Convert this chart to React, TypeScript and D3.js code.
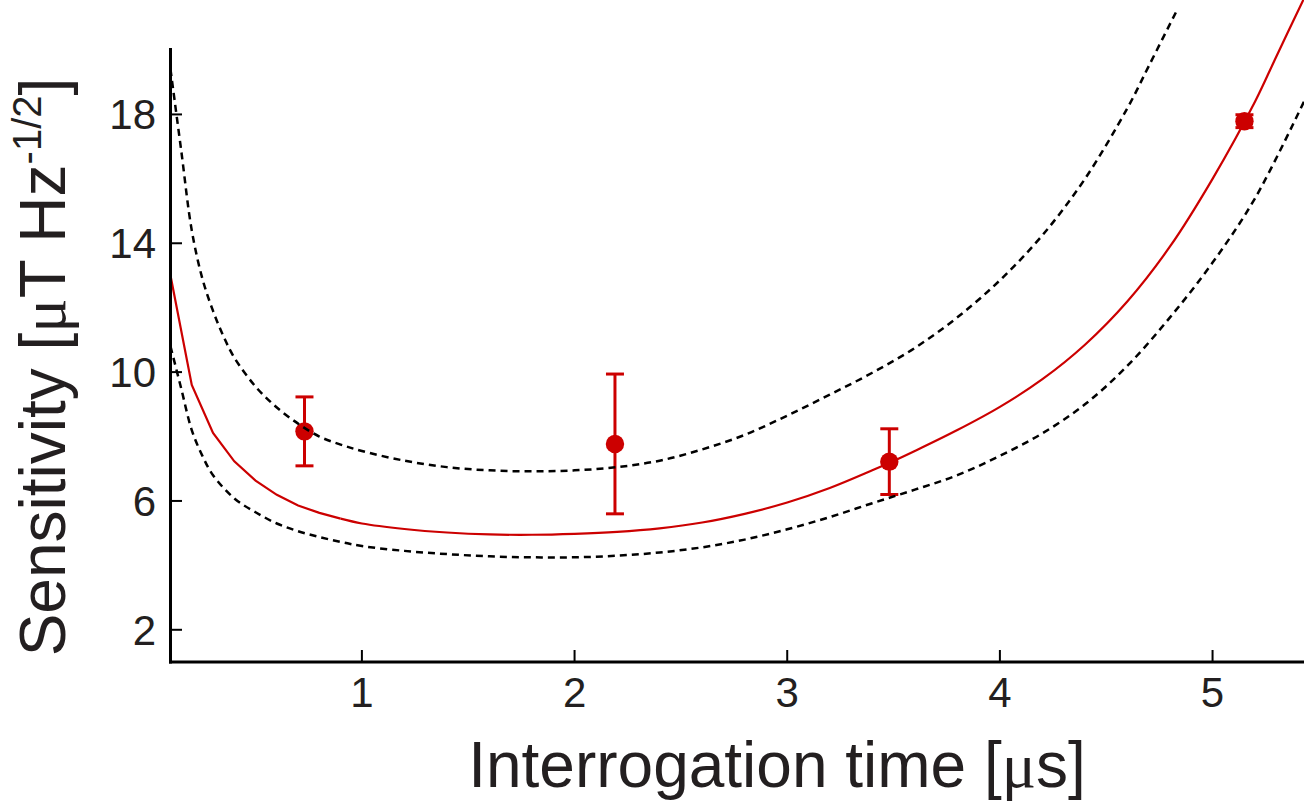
import React from "react";
import * as d3 from "d3";

// Fitted sensitivity curve (red solid)
const fitT = [0.1, 0.2, 0.3, 0.4, 0.5, 0.6, 0.7, 0.8, 0.9, 1.0, 1.2, 1.4, 1.6, 1.8, 2.0, 2.2, 2.4, 2.6, 2.8, 3.0, 3.2, 3.4, 3.5, 3.6, 3.8, 4.0, 4.2, 4.4, 4.6, 4.8, 5.0, 5.2, 5.3, 5.43];
const fitS = [13.0, 9.6, 8.11, 7.23, 6.63, 6.19, 5.86, 5.63, 5.45, 5.3, 5.13, 5.02, 4.96, 4.95, 4.98, 5.04, 5.15, 5.33, 5.6, 5.95, 6.4, 6.95, 7.24, 7.55, 8.2, 8.92, 9.78, 10.85, 12.2, 13.9, 16.0, 18.4, 19.8, 21.6];

// Upper bound (black dashed)
const upperT = [0.1, 0.15, 0.2, 0.25, 0.3, 0.35, 0.4, 0.5, 0.6, 0.7, 0.8, 0.9, 1.0, 1.2, 1.4, 1.6, 1.8, 2.0, 2.2, 2.4, 2.6, 2.8, 3.0, 3.2, 3.4, 3.6, 3.8, 4.0, 4.2, 4.4, 4.6, 4.7, 4.83];
const upperS = [19.4, 16.9, 14.4, 12.9, 11.9, 11.1, 10.45, 9.55, 8.9, 8.4, 8.0, 7.75, 7.55, 7.25, 7.05, 6.95, 6.92, 6.95, 7.05, 7.25, 7.6, 8.05, 8.65, 9.3, 9.98, 10.75, 11.7, 12.85, 14.25, 16.0, 18.2, 19.5, 21.2];

// Lower bound (black dashed)
const lowerT = [0.1, 0.15, 0.2, 0.25, 0.3, 0.4, 0.5, 0.6, 0.7, 0.8, 0.9, 1.0, 1.2, 1.4, 1.6, 1.8, 2.0, 2.2, 2.4, 2.6, 2.8, 3.0, 3.2, 3.4, 3.6, 3.8, 4.0, 4.2, 4.4, 4.6, 4.8, 5.0, 5.2, 5.43];
const lowerS = [10.8, 9.5, 8.2, 7.4, 6.8, 6.08, 5.65, 5.3, 5.06, 4.88, 4.73, 4.6, 4.45, 4.35, 4.28, 4.25, 4.25, 4.3, 4.4, 4.56, 4.8, 5.12, 5.5, 5.93, 6.35, 6.8, 7.4, 8.1, 9.0, 10.2, 11.7, 13.4, 15.4, 18.4];

// Measured points
const measT = [0.73, 2.19, 3.48, 5.15];
const measS = [8.16, 7.77, 7.22, 17.79];
const measErr = [1.07, 2.17, 1.02, 0.2];

const xTicks = [1, 2, 3, 4, 5];
const yTicks = [2, 6, 10, 14, 18];

const RED = "#cc0000";
const FONT = "'Liberation Sans', Arial, Helvetica, sans-serif";
const SERIF = "'Liberation Serif', 'DejaVu Serif', serif";

export default function App() {
  const W = 1304;
  const H = 808;
  const x = d3.scaleLinear().domain([0.1, 5.43]).range([170.5, 1304]);
  const y = d3.scaleLinear().domain([1, 20]).range([662, 50]);

  const lineLin = d3.line<[number, number]>().x((d) => x(d[0])).y((d) => y(d[1])).curve(d3.curveLinear);
  const lineSmooth = d3.line<[number, number]>().x((d) => x(d[0])).y((d) => y(d[1])).curve(d3.curveCatmullRom.alpha(0.5));

  const fitPts = fitT.map((t, i) => [t, fitS[i]] as [number, number]);
  const fitHead = fitPts.filter((d) => d[0] <= 0.9);
  const fitTail = fitPts.filter((d) => d[0] >= 0.9);
  const upPts = upperT.map((t, i) => [t, upperS[i]] as [number, number]);
  const loPts = lowerT.map((t, i) => [t, lowerS[i]] as [number, number]);

  const capHalf = 9;

  return (
    <svg width={W} height={H} style={{ position: "absolute", left: 0, top: 0, background: "#fff" }}>
      <rect width={W} height={H} fill="#fff" />
      {/* fit line */}
      <path d={lineLin(fitHead) || ""} fill="none" stroke={RED} strokeWidth={2.2} />
      <path d={lineSmooth(fitTail) || ""} fill="none" stroke={RED} strokeWidth={2.2} />
      {/* error bars + points */}
      {measT.map((t, i) => {
        const cx = x(t);
        const y0 = y(measS[i] - measErr[i]);
        const y1 = y(measS[i] + measErr[i]);
        return (
          <g key={i}>
            <line x1={cx} x2={cx} y1={y0} y2={y1} stroke={RED} strokeWidth={3} />
            <line x1={cx - capHalf} x2={cx + capHalf} y1={y0} y2={y0} stroke={RED} strokeWidth={3} />
            <line x1={cx - capHalf} x2={cx + capHalf} y1={y1} y2={y1} stroke={RED} strokeWidth={3} />
            <circle cx={cx} cy={y(measS[i])} r={9.2} fill={RED} />
          </g>
        );
      })}
      {/* bounds */}
      <path d={lineSmooth(upPts) || ""} fill="none" stroke="#000" strokeWidth={2.5} strokeDasharray="7,5" />
      <path d={lineSmooth(loPts) || ""} fill="none" stroke="#000" strokeWidth={2.5} strokeDasharray="7,5" />

      {/* axes */}
      <line x1={170.5} x2={170.5} y1={48} y2={663.5} stroke="#000" strokeWidth={3} />
      <line x1={169} x2={1304} y1={662} y2={662} stroke="#000" strokeWidth={3} />
      {yTicks.map((v) => (
        <g key={"y" + v}>
          <line x1={170.5} x2={182} y1={y(v)} y2={y(v)} stroke="#000" strokeWidth={2} />
          <text x={156} y={y(v) + 15} textAnchor="end" fontFamily={FONT} fontSize={42} fill="#231f20">
            {v}
          </text>
        </g>
      ))}
      {xTicks.map((v) => (
        <g key={"x" + v}>
          <line x1={x(v)} x2={x(v)} y1={662} y2={650} stroke="#000" strokeWidth={2} />
          <text x={x(v)} y={707} textAnchor="middle" fontFamily={FONT} fontSize={42} fill="#231f20">
            {v}
          </text>
        </g>
      ))}

      {/* x title */}
      <text x={777} y={787} textAnchor="middle" fontFamily={FONT} fontSize={64} fill="#231f20">
        Interrogation time [<tspan fontFamily={SERIF}>μ</tspan>s]
      </text>

      {/* y title */}
      <text
        transform="translate(65,367) rotate(-90)"
        textAnchor="middle"
        fontFamily={FONT}
        fontSize={64}
        fill="#231f20"
      >
        Sensitivity [<tspan fontFamily={SERIF}>μ</tspan>T Hz
        <tspan fontSize={40} dy={-24}>-1/2</tspan>
        <tspan dy={24}>]</tspan>
      </text>
    </svg>
  );
}
